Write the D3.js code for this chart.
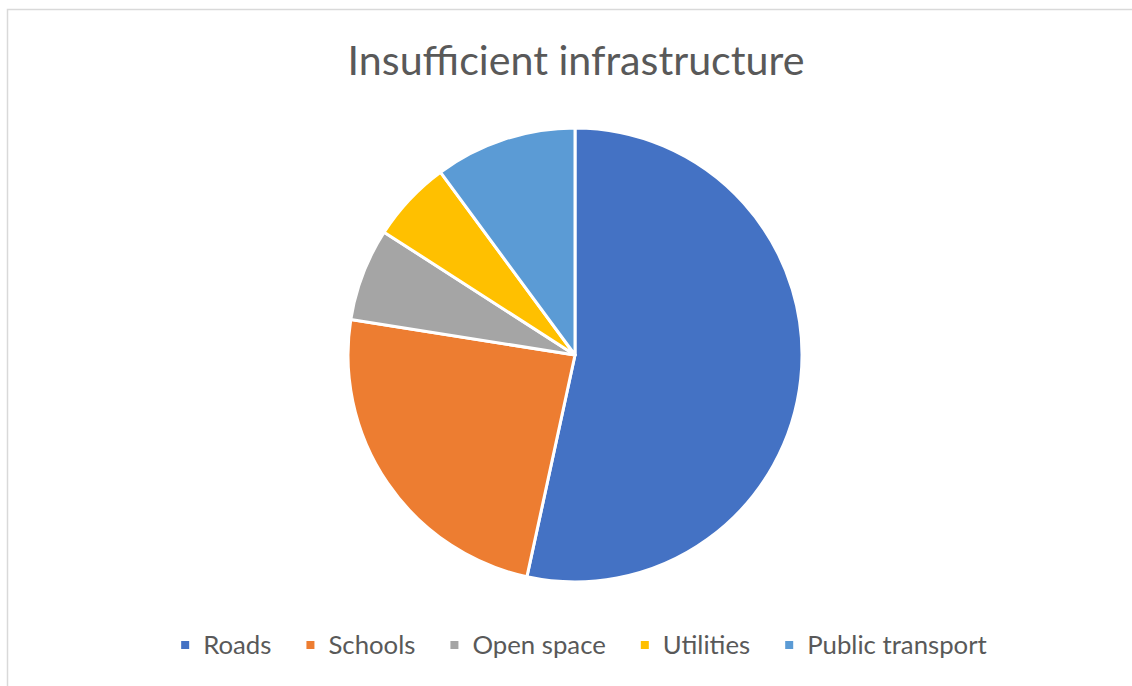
<!DOCTYPE html>
<html>
<head>
<meta charset="utf-8">
<script src="https://cdn.jsdelivr.net/npm/d3@7"></script>
<style>
  body { margin: 0; background: #fff; }
  svg { display: block; }
</style>
</head>
<body>
<div id="chart"></div>
<script>
// data (share in %)
const categories = ['Roads', 'Schools', 'Open space', 'Utilities', 'Public transport'];
const shares = [53.4, 24.1, 6.6, 5.8, 10.1];
const colors = ['#4472C4', '#ED7D31', '#A5A5A5', '#FFC000', '#5B9BD5'];
const title = 'Insufficient infrastructure';

const width = 1132, height = 686;
const cx = 575, cy = 355, radius = 227;

const svg = d3.select('#chart').append('svg')
    .attr('width', width)
    .attr('height', height);

// chart frame
svg.append('rect')
    .attr('x', 7.5).attr('y', 9.5)
    .attr('width', width).attr('height', height)
    .attr('fill', '#fff')
    .attr('stroke', '#d9d9d9')
    .attr('stroke-width', 1.5);

// title, sized to the width it has in the reference
const titleText = svg.append('text')
    .attr('x', cx + 1)
    .attr('y', 75)
    .attr('text-anchor', 'middle')
    .attr('fill', '#595959')
    .style('font-family', 'Lato, "Noto Sans", sans-serif')
    .style('font-size', '40px')
    .text(title);
const tw = titleText.node().getComputedTextLength();
titleText.style('font-size', (40 * 457 / tw) + 'px');

const color = d3.scaleOrdinal().domain(categories).range(colors);

const pie = d3.pie().sort(null).value(d => d.value);
const arc = d3.arc().innerRadius(0).outerRadius(radius);

const pieData = pie(categories.map((c, i) => ({ name: c, value: shares[i] })));

svg.append('g')
    .attr('transform', `translate(${cx},${cy})`)
    .selectAll('path')
    .data(pieData)
    .join('path')
    .attr('d', arc)
    .attr('fill', d => color(d.data.name))
    .attr('stroke', '#fff')
    .attr('stroke-width', 3)
    .attr('stroke-linejoin', 'round');

// legend, laid out by measured text widths and centred
const legendY = 645;
const gap = 35, textOff = 22;
const legend = svg.append('g');
const items = legend.selectAll('g')
    .data(categories)
    .join('g');

items.append('rect')
    .attr('width', 8).attr('height', 8)
    .attr('y', -4)
    .attr('fill', d => color(d));

const labels = items.append('text')
    .attr('x', textOff)
    .attr('dy', '0.35em')
    .attr('fill', '#595959')
    .style('font-family', 'Lato, "Noto Sans", sans-serif')
    .style('font-size', '22px')
    .text(d => d);

// scale the legend font so the row spans as wide as in the reference
let textSum = 0;
labels.each(function() { textSum += this.getComputedTextLength(); });
const targetText = 806 - categories.length * textOff - (categories.length - 1) * gap;
labels.style('font-size', (22 * targetText / textSum) + 'px');

let xPos = 0;
items.each(function() {
    const g = d3.select(this);
    g.attr('transform', `translate(${xPos},${legendY})`);
    xPos += textOff + g.select('text').node().getComputedTextLength() + gap;
});
const total = xPos - gap;
legend.attr('transform', `translate(${cx + 9 - total / 2},0)`);
</script>
</body>
</html>
